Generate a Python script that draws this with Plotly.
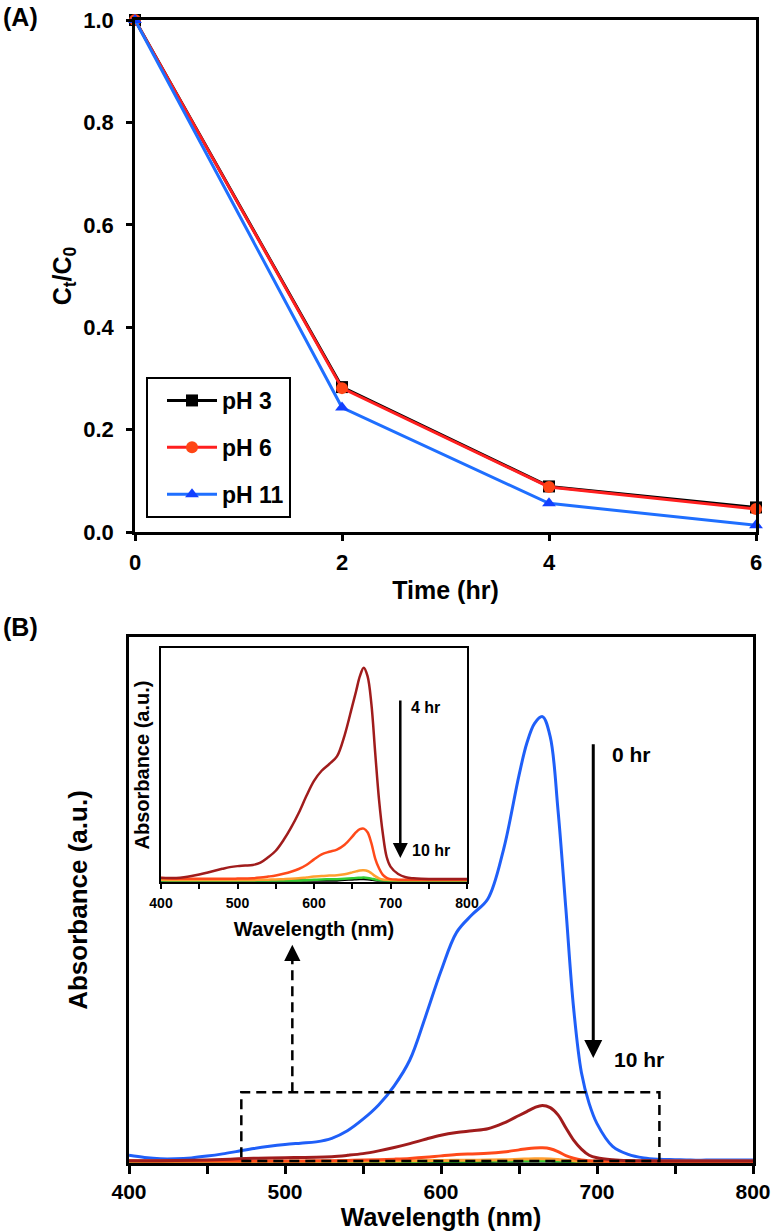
import plotly.graph_objects as go

# ---------------- Panel (A) data ----------------
time_hr = [0, 2, 4, 6]
ph3 = [1.0, 0.283, 0.089, 0.048]
ph6 = [1.0, 0.281, 0.088, 0.045]
ph11 = [1.0, 0.243, 0.056, 0.013]
legend_names = ["pH 3", "pH 6", "pH 11"]
time_ticks = [0, 2, 4, 6]
ratio_ticks = [0.0, 0.2, 0.4, 0.6, 0.8, 1.0]

# ---------------- Panel (B) data ----------------
wavelength = [400, 410, 420, 430, 440, 450, 460, 470, 480, 490, 500, 510, 520, 530, 540,
              550, 560, 570, 580, 590, 600, 610, 620, 630, 640, 650, 655, 660, 665, 670,
              675, 680, 685, 690, 695, 700, 710, 720, 730, 740, 750, 760, 770, 780, 790, 800]
abs_0hr = [0.014, 0.009, 0.006, 0.006, 0.008, 0.012, 0.017, 0.023, 0.029, 0.034, 0.038, 0.041,
           0.044, 0.052, 0.069, 0.095, 0.127, 0.170, 0.228, 0.325, 0.428, 0.515, 0.555, 0.590,
           0.700, 0.868, 0.940, 0.985, 1.000, 0.955, 0.790, 0.570, 0.345, 0.200, 0.130, 0.085,
           0.034, 0.016, 0.008, 0.005, 0.004, 0.003, 0.003, 0.003, 0.003, 0.003]
abs_4hr = [0.0015, 0.0014, 0.0015, 0.0019, 0.0026, 0.0035, 0.0046, 0.0058, 0.0069, 0.0079,
           0.0085, 0.0088, 0.0092, 0.0106, 0.0137, 0.0176, 0.0238, 0.0313, 0.0400, 0.0500,
           0.0590, 0.0650, 0.0690, 0.0735, 0.0860, 0.1033, 0.1121, 0.1210, 0.1260, 0.1210,
           0.1046, 0.0756, 0.0479, 0.0277, 0.0139, 0.0082, 0.0038, 0.0019, 0.0013, 0.0010,
           0.0009, 0.0009, 0.0009, 0.0009, 0.0009, 0.0009]
abs_6hr = [0.0016, 0.0012, 0.0010, 0.0010, 0.0010, 0.0010, 0.0010, 0.0010, 0.0010, 0.0010,
           0.0011, 0.0012, 0.0013, 0.0017, 0.0023, 0.0030, 0.0040, 0.0052, 0.0068, 0.0092,
           0.0125, 0.0155, 0.0170, 0.0183, 0.0212, 0.0260, 0.0286, 0.0304, 0.0307, 0.0286,
           0.0221, 0.0130, 0.0072, 0.0033, 0.0016, 0.0008, 0.0005, 0.0004, 0.0004, 0.0004,
           0.0004, 0.0004, 0.0004, 0.0004, 0.0004, 0.0004]
abs_8hr = [0.0004, 0.0003, 0.0003, 0.0003, 0.0003, 0.0003, 0.0003, 0.0003, 0.0003, 0.0003,
           0.0003, 0.0003, 0.0003, 0.0004, 0.0005, 0.0006, 0.0008, 0.0010, 0.0013, 0.0018,
           0.0023, 0.0027, 0.0029, 0.0031, 0.0037, 0.0048, 0.0054, 0.0059, 0.0060, 0.0056,
           0.0043, 0.0026, 0.0013, 0.0006, 0.0004, 0.0003, 0.0002, 0.0002, 0.0002, 0.0002,
           0.0002, 0.0002, 0.0002, 0.0002, 0.0002, 0.0002]
abs_9hr = [0.0, 0.0, 0.0, 0.0, 0.0, 0.0, 0.0, 0.0, 0.0, 0.0,
           0.0, 0.0, 0.0, 0.0, 0.0, 0.0, 0.0, 0.0, 0.0, 0.0002,
           0.0004, 0.0006, 0.0007, 0.0008, 0.0010, 0.0013, 0.0015, 0.0016, 0.0017, 0.0015,
           0.0011, 0.0006, 0.0003, 0.0001, 0.0, 0.0, 0.0, 0.0, 0.0, 0.0,
           0.0, 0.0, 0.0, 0.0, 0.0, 0.0]
abs_10hr = [0.0, 0.0, 0.0, 0.0, 0.0, 0.0, 0.0, 0.0, 0.0, 0.0,
            0.0, 0.0, 0.0, 0.0, 0.0, 0.0, 0.0, 0.0, 0.0, 0.0,
            0.0, 0.0, 0.0, 0.0, 0.0004, 0.0006, 0.0008, 0.0009, 0.0009, 0.0008,
            0.0005, 0.0002, 0.0, 0.0, 0.0, 0.0, 0.0, 0.0, 0.0, 0.0,
            0.0, 0.0, 0.0, 0.0, 0.0, 0.0]
wl_ticks = [400, 500, 600, 700, 800]

# ---------------- styling ----------------
W, H = 774, 1232
FONT = "Liberation Sans, Arial, sans-serif"


def fx(p):
    return p / W


def fy(p):
    return 1 - p / H


def bold(size):
    return dict(family=FONT, size=size, color="black", weight="bold")


fig = go.Figure()

# Panel A traces
for name, ys, lc, mc, sym in [
    (legend_names[0], ph3, "#000000", "#000000", "square"),
    (legend_names[1], ph6, "#ff1f1f", "#ff4515", "circle"),
    (legend_names[2], ph11, "#1f6fff", "#1240ff", "triangle-up"),
]:
    fig.add_trace(go.Scatter(
        x=time_hr, y=ys, name=name, mode="lines+markers",
        line=dict(color=lc, width=3),
        marker=dict(symbol=sym, size=12, color=mc),
        cliponaxis=False, legendgroup=name, xaxis="x", yaxis="y"))

# Panel B main + inset traces
curves = [
    ("10 hr", abs_10hr, "#000000"),
    ("9 hr", abs_9hr, "#33cc33"),
    ("8 hr", abs_8hr, "#ffa030"),
    ("6 hr", abs_6hr, "#ff4a1a"),
    ("4 hr", abs_4hr, "#a01c1c"),
]
fig.add_trace(go.Scatter(x=wavelength, y=abs_0hr, name="0 hr", mode="lines",
                         line=dict(color="#1f5ff8", width=3, shape="spline", smoothing=1.0),
                         showlegend=False, xaxis="x2", yaxis="y2"))
for name, ys, col in curves:
    fig.add_trace(go.Scatter(x=wavelength, y=ys, name=name, mode="lines",
                             line=dict(color=col, width=3, shape="spline", smoothing=1.0),
                             showlegend=False, xaxis="x2", yaxis="y2"))
for name, ys, col in curves:
    fig.add_trace(go.Scatter(x=wavelength, y=ys, name=name, mode="lines",
                             line=dict(color=col, width=2.5, shape="spline", smoothing=1.0),
                             showlegend=False, xaxis="x3", yaxis="y3"))

axis_common = dict(showline=True, linecolor="black", mirror=True, showgrid=False,
                   zeroline=False, tickcolor="black", automargin=False)

fig.update_layout(
    width=W, height=H,
    margin=dict(l=0, r=0, t=0, b=0),
    paper_bgcolor="white", plot_bgcolor="white",
    font=dict(family=FONT, color="black"),
    showlegend=True,
    legend=dict(x=fx(146), y=fy(377), xanchor="left", yanchor="top",
                bordercolor="black", borderwidth=2, bgcolor="white", indentation=14,
                font=bold(23), itemwidth=50, tracegroupgap=14, traceorder="grouped"),
    xaxis=dict(axis_common, domain=[fx(135), fx(756)], anchor="y", range=[0, 6],
               tickvals=time_ticks, ticks="outside", ticklen=6, tickwidth=2.5, linewidth=2.5,
               tickfont=bold(22), ticklabelstandoff=3,
               title=dict(text="Time (hr)", font=bold(25), standoff=8)),
    yaxis=dict(axis_common, domain=[fy(532), fy(20)], anchor="x", range=[0, 1.0],
               tickvals=ratio_ticks, tickformat=".1f", ticks="outside", ticklen=6,
               tickwidth=2.5, linewidth=2.5, tickfont=bold(22), ticklabelstandoff=8,
               title=dict(text="C<sub>t</sub>/C<sub>0</sub>", font=bold(25), standoff=5)),
    xaxis2=dict(axis_common, domain=[fx(129), fx(753)], anchor="y2", range=[400, 800],
                tickvals=wl_ticks, ticks="outside", ticklen=8, tickwidth=2.5, linewidth=2.5,
                minor=dict(dtick=50, ticks="outside", ticklen=8, tickwidth=2.5, tickcolor="black"),
                tickfont=bold(21), ticklabelstandoff=0,
                title=dict(text="Wavelength (nm)", font=bold(25), standoff=0)),
    yaxis2=dict(axis_common, domain=[fy(1163), fy(637)], anchor="x2", range=[-0.0035, 1.179],
                showticklabels=False, ticks="", linewidth=2.5,
                title=dict(text="Absorbance (a.u.)", font=bold(26), standoff=32)),
    xaxis3=dict(axis_common, domain=[fx(161), fx(467)], anchor="y3", range=[400, 800],
                tickvals=wl_ticks, ticks="outside", ticklen=5, tickwidth=2, linewidth=2,
                minor=dict(dtick=50, ticks="outside", ticklen=5, tickwidth=2, tickcolor="black"),
                tickfont=bold(14), ticklabelstandoff=2,
                title=dict(text="Wavelength (nm)", font=bold(20), standoff=12)),
    yaxis3=dict(axis_common, domain=[fy(882), fy(648)], anchor="x3", range=[-0.0009, 0.1377],
                showticklabels=False, ticks="", linewidth=2,
                title=dict(text="Absorbance (a.u.)", font=bold(20), standoff=4)),
)

# zoom box and dashed connector
box_x0, box_x1, box_y0, box_y1 = 472, 740, 0.001, 0.1556
link_x, link_y_end, link_tip = 504.7, 0.44, 0.487
fig.add_shape(type="rect", xref="x2", yref="y2", x0=box_x0, x1=box_x1, y0=box_y0, y1=box_y1,
              line=dict(color="black", width=2.5, dash="10px,6px"))
fig.add_shape(type="line", xref="x2", yref="y2", x0=link_x, x1=link_x, y0=box_y1, y1=link_y_end,
              line=dict(color="black", width=2.5, dash="10px,6px"))
fig.add_annotation(x=link_x, y=link_tip, ax=link_x, ay=link_y_end, xref="x2", yref="y2",
                   axref="x2", ayref="y2", text="", showarrow=True, arrowhead=2,
                   arrowsize=1.3, arrowwidth=2.5, arrowcolor="black")

# main arrow 0 hr -> 10 hr
fig.add_annotation(x=697.6, y=0.2327, ax=697.6, ay=0.941, xref="x2", yref="y2",
                   axref="x2", ayref="y2", text="", showarrow=True, arrowhead=2,
                   arrowsize=1.2, arrowwidth=3, arrowcolor="black")
fig.add_annotation(x=708.3, y=0.914, xref="x2", yref="y2", text="0 hr", showarrow=False,
                   xanchor="left", yanchor="middle", font=bold(21))
fig.add_annotation(x=709.4, y=0.230, xref="x2", yref="y2", text="10 hr", showarrow=False,
                   xanchor="left", yanchor="middle", font=bold(21))

# inset arrow 4 hr -> 10 hr
fig.add_annotation(x=712.8, y=0.0133, ax=712.8, ay=0.1075, xref="x3", yref="y3",
                   axref="x3", ayref="y3", text="", showarrow=True, arrowhead=2,
                   arrowsize=1.2, arrowwidth=2.5, arrowcolor="black")
fig.add_annotation(x=724.6, y=0.1027, xref="x3", yref="y3", text="4 hr", showarrow=False,
                   xanchor="left", yanchor="middle", font=bold(16))
fig.add_annotation(x=725.8, y=0.0175, xref="x3", yref="y3", text="10 hr", showarrow=False,
                   xanchor="left", yanchor="middle", font=bold(16))

# panel labels
fig.add_annotation(x=fx(1), y=fy(17), xref="paper", yref="paper", text="(A)", showarrow=False,
                   xanchor="left", yanchor="middle", font=bold(25))
fig.add_annotation(x=fx(1), y=fy(627), xref="paper", yref="paper", text="(B)", showarrow=False,
                   xanchor="left", yanchor="middle", font=bold(25))

fig.write_html("out.html", config={"displayModeBar": False},
               post_script="document.body.style.margin='0';")
